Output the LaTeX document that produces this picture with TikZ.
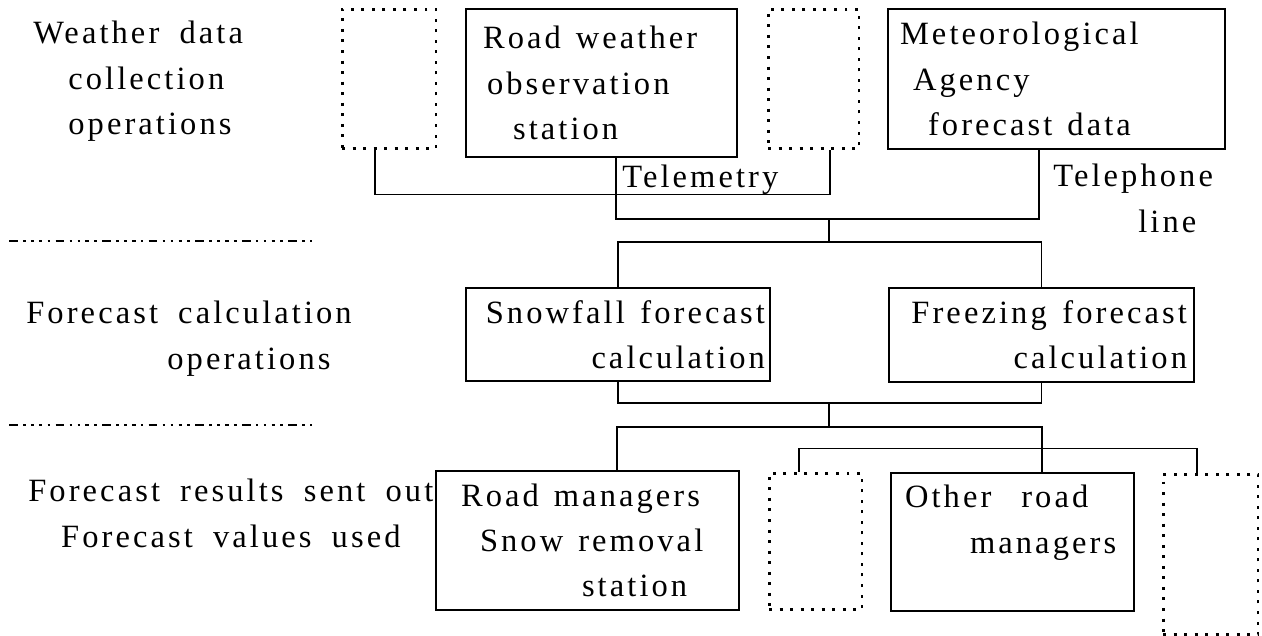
\documentclass[tikz,border=0pt]{standalone}
\usepackage{fontspec}
\setmainfont{Liberation Serif}[LetterSpace=9.5,WordSpace=1.8]
\usepackage{tikz}
\usetikzlibrary{calc}
\newcommand{\widegap}{\spaceskip=.46em plus .1em\relax}
\tikzset{
  main node/.style={draw,line width=1.2pt,inner ysep=0pt,font=\fontsize{18.5}{25.8}\selectfont},
  ghost node/.style={draw,line width=1.7pt,dash pattern=on 1.7pt off 4.3pt,inner sep=0pt},
  side text/.style={inner sep=0pt,font=\fontsize{18.5}{25.8}\selectfont},
  wire/.style={line width=1.1pt},
  divider/.style={line width=1.4pt,dash pattern=on 5pt off 3pt on 1.5pt off 3pt on 1.5pt off 3pt on 2pt off 3pt on 1.5pt off 3pt}
}

\begin{document}
\begin{tikzpicture}[x=0.02cm,y=-0.02cm]
  \useasboundingbox (0,0) rectangle (1262,636);

  % row labels and dividers
  \node[side text,anchor=north west,align=left] (lab1) at (33,21)
    {Weather~data\\\hspace*{0.7cm}collection\\\hspace*{0.7cm}operations};
  \node[side text,anchor=north west,align=left] (lab2) at (26,301)
    {Forecast~calculation\\\hspace*{2.82cm}operations};
  \node[side text,anchor=north west,align=center] (lab3) at (28,479)
    {Forecast~results~sent~out\\Forecast~values~used};
  \draw[divider] (9,241) -- (312,241);
  \draw[divider] (9,425) -- (312,425);

  % collection
  \node[ghost node,minimum width=1.88cm,minimum height=2.8cm] (d1) at (389,79) {};
  \node[main node,minimum height=2.96cm,inner xsep=0.34cm,text width=4.74cm,align=left] (rws) at (601.5,83)
    {\widegap Road~weather\\\hspace*{0.08cm}observation\\\hspace*{0.6cm}station};
  \node[ghost node,minimum width=1.82cm,minimum height=2.8cm] (d2) at (813.5,79) {};
  \node[main node,minimum height=2.8cm,inner xsep=0.24cm,text width=6.26cm,align=left] (jma) at (1056.5,79)
    {\widegap Meteorological\\\hspace*{0.26cm}Agency\\\hspace*{0.56cm}forecast~data};

  \draw[wire] ([xshift=-0.28cm]d1.south) -- ++(0,44) -| ([xshift=0.33cm]d2.south);
  \draw[wire] ([xshift=0.29cm]rws.south) -- ++(0,61) -| ([xshift=-0.35cm]jma.south);
  \node[side text,anchor=base west] (tele) at (622,187) {Telemetry};
  \node[side text,anchor=north west,align=left] (phone) at (1053,164) {Telephone\\\hspace*{1.7cm}line};

  % calculation
  \coordinate (hub1) at (829,218);
  \coordinate (hub2) at (829,242);
  \node[main node,minimum height=1.86cm,inner xsep=0.1cm,text width=5.88cm,align=right] (snow) at (618,334.5)
    {\widegap Snowfall~forecast\\calculation};
  \node[main node,minimum height=1.88cm,inner xsep=0.14cm,text width=5.82cm,align=right] (frz) at (1041.5,335)
    {\widegap Freezing~forecast\\calculation};
  \draw[wire] (hub1) -- (hub2);
  \draw[wire] (snow.north) |- (hub2) -| (frz.north);

  % distribution
  \coordinate (hub3) at (829,403);
  \coordinate (hub4) at (829,427);
  \node[main node,minimum height=2.78cm,inner xsep=0.5cm,text width=5.06cm,align=left] (mgr) at (587.5,540.5)
    {\widegap Road~managers\\\hspace*{0.38cm}Snow~removal\\\hspace*{2.42cm}station};
  \node[ghost node,minimum width=1.86cm,minimum height=2.74cm] (d3) at (815.5,541.5) {};
  \node[main node,minimum height=2.76cm,inner xsep=0.28cm,text width=4.3cm,align=left] (other) at (1012.5,542)
    {\widegap Other~~road\\\hspace*{1.3cm}managers\\\mbox{}};
  \node[ghost node,minimum width=1.9cm,minimum height=3.22cm] (d4) at (1210.5,554.5) {};

  \draw[wire] (snow.south) |- (hub3) -| (frz.south);
  \draw[wire] (hub3) -- (hub4);
  \draw[wire] ([xshift=0.59cm]mgr.north) |- (hub4) -| ([xshift=0.59cm]other.north);
  \draw[wire] ([xshift=-0.33cm]d3.north) -- ++(0,-23) -| ([xshift=-0.27cm]d4.north);
\end{tikzpicture}
\end{document}
